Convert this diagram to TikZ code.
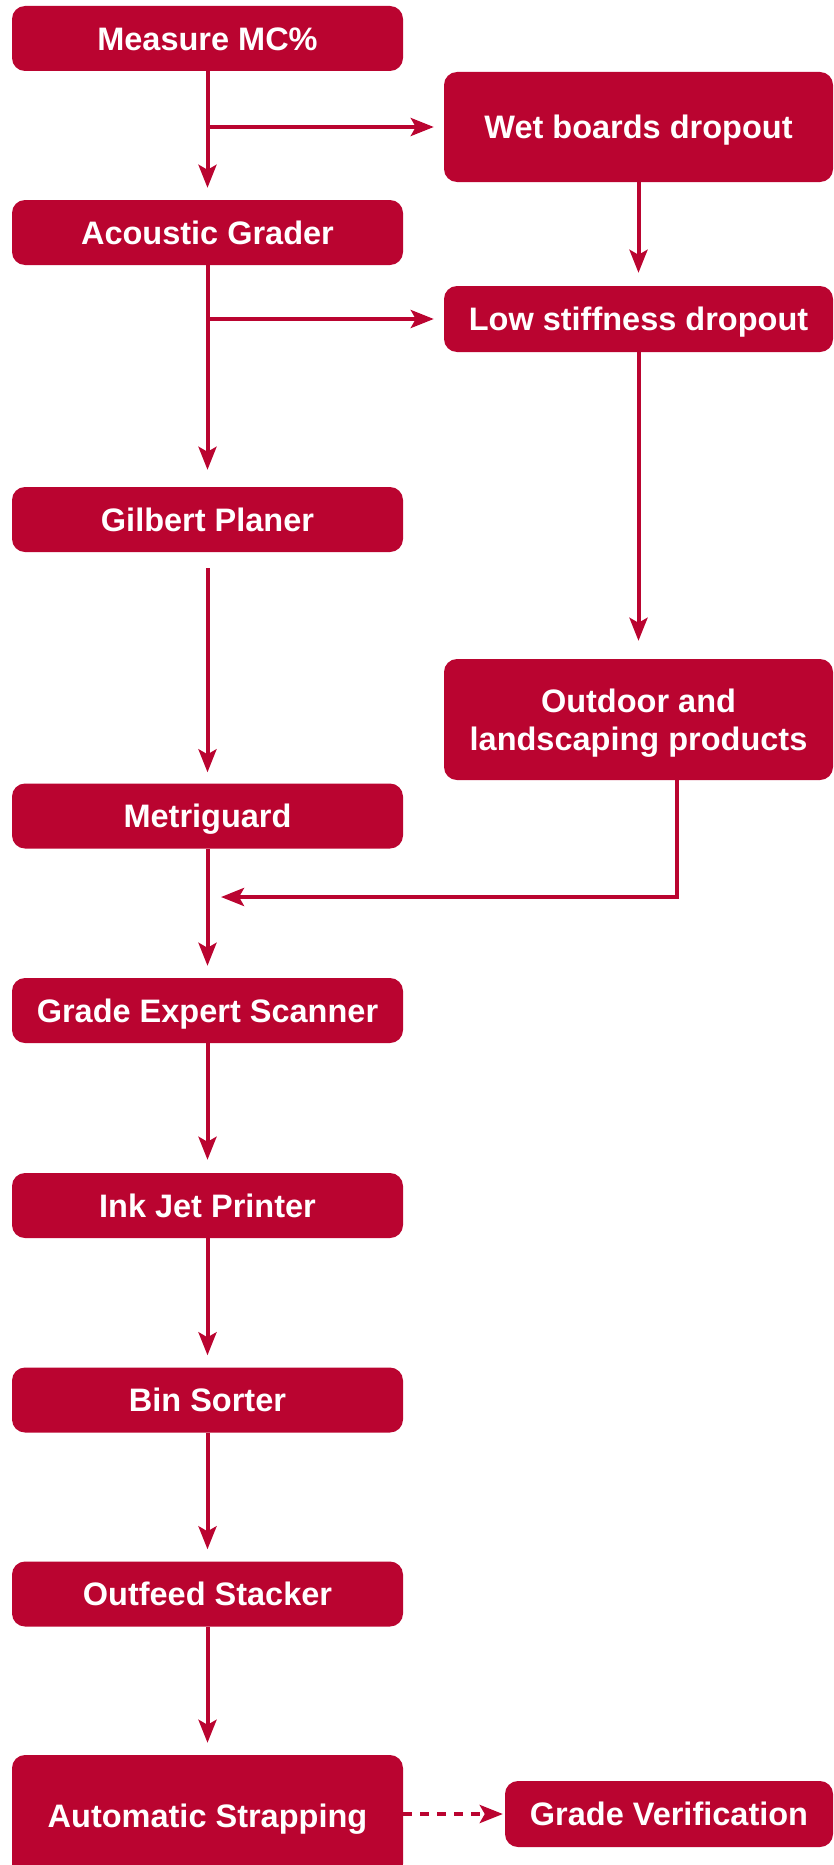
\documentclass[tikz,border=0pt]{standalone}
\usepackage{fontspec}
\setmainfont{Liberation Sans}
\usetikzlibrary{arrows.meta,calc}
\definecolor{crim}{RGB}{186,4,48}
\tikzset{
  box/.style={fill=crim, draw=none, rounded corners=13pt, text=white, align=center,
    font=\fontsize{32.5}{38}\selectfont\bfseries, inner sep=0pt},
  one/.style={text height=23.3pt, text depth=0pt},
  lbox/.style={box, one, minimum width=391pt, minimum height=65pt},
  rbox/.style={box, minimum width=389pt},
  arr/.style={draw=crim, line width=4pt, -{Stealth[length=23pt,width=18pt,inset=5pt]}},
  dasharr/.style={arr, dash pattern=on 9pt off 8pt}
}
\begin{document}
\begin{tikzpicture}[x=1pt,y=-1pt]
\useasboundingbox (0,0) rectangle (834,1865);
% left column
\node[lbox] (meas) at (207.5,38.5) {Measure MC\%};
\node[lbox] (acou) at (207.5,232.5) {Acoustic Grader};
\node[lbox] (gilb) at (207.5,519.5) {Gilbert Planer};
\node[lbox] (metr) at (207.5,816) {Metriguard};
\node[lbox] (gexp) at (207.5,1010.5) {Grade Expert Scanner};
\node[lbox] (ink) at (207.5,1205.5) {Ink Jet Printer};
\node[lbox] (bin) at (207.5,1400) {Bin Sorter};
\node[lbox] (outf) at (207.5,1594) {Outfeed Stacker};
\node[lbox, minimum height=122pt] (auto) at (207.5,1816) {Automatic Strapping};
% right column
\node[rbox, one, minimum height=110pt] (wet) at (638.5,127) {Wet boards dropout};
\node[rbox, one, minimum height=66pt] (low) at (638.5,319) {Low stiffness dropout};
\node[rbox, text height=61.3pt, text depth=0pt, minimum height=121pt] (outd) at (638.5,719.5) {Outdoor and\\landscaping products};
\node[box, one, minimum width=328pt, minimum height=66pt] (gver) at (669,1814) {Grade Verification};
\coordinate (join) at (207.5,897);
% connectors
\draw[arr, shorten >=12pt] (meas.south) -- (acou.north);
\draw[arr, shorten >=10pt] (meas.south |- wet.west) -- (wet.west);
\draw[arr, shorten >=13pt] (wet.south) -- (low.north);
\draw[arr, shorten >=17pt] (acou.south) -- (gilb.north);
\draw[arr, shorten >=10pt] (acou.south |- low.west) -- (low.west);
\draw[arr, shorten >=18pt] (low.south) -- (outd.north);
\draw[arr, shorten <=16pt, shorten >=11pt] (gilb.south) -- (metr.north);
\draw[arr, shorten >=13.5pt] ([xshift=38.5pt]outd.south) |- (join);
\draw[arr, shorten >=12pt] (metr.south) -- (gexp.north);
\draw[arr, shorten >=13pt] (gexp.south) -- (ink.north);
\draw[arr, shorten >=12pt] (ink.south) -- (bin.north);
\draw[arr, shorten >=12pt] (bin.south) -- (outf.north);
\draw[arr, shorten >=12pt] (outf.south) -- (auto.north);
\draw[dasharr, shorten >=2pt] (auto.east |- gver.west) -- (gver.west);
\end{tikzpicture}
\end{document}
